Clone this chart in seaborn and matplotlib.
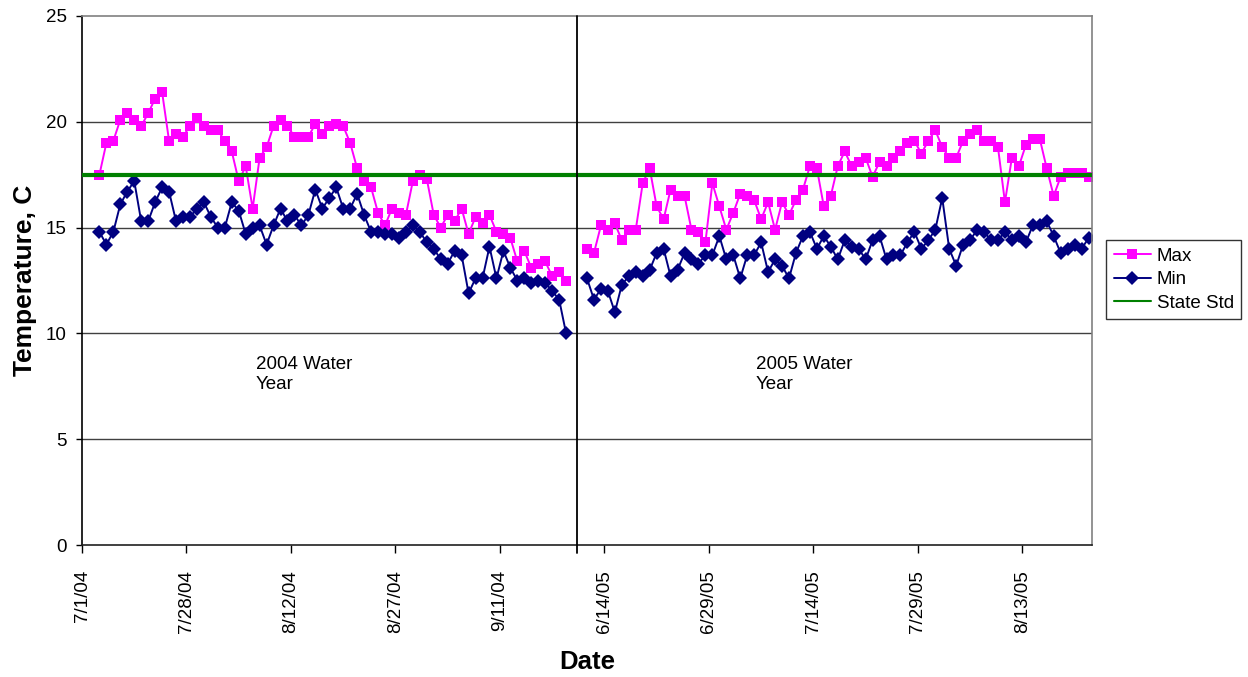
import numpy as np
import pandas as pd
import seaborn as sns
from matplotlib import pyplot as plt

# daily max / min water temperature, two water years
max04 = [17.5, 19.0, 19.1, 20.1, 20.4, 20.1, 19.8, 20.4, 21.1, 21.4, 19.1, 19.4, 19.3, 19.8, 20.2, 19.8,
         19.6, 19.6, 19.1, 18.6, 17.2, 17.9, 15.9, 18.3, 18.8, 19.8, 20.1, 19.8, 19.3, 19.3, 19.3, 19.9,
         19.4, 19.8, 19.9, 19.8, 19.0, 17.8, 17.2, 16.9, 15.7, 15.1, 15.9, 15.7, 15.6, 17.2, 17.5, 17.3,
         15.6, 15.0, 15.6, 15.3, 15.9, 14.7, 15.5, 15.2, 15.6, 14.8, 14.7, 14.5, 13.4, 13.9, 13.1, 13.3,
         13.4, 12.7, 12.9, 12.5]
min04 = [14.8, 14.2, 14.8, 16.1, 16.7, 17.2, 15.3, 15.3, 16.2, 16.9, 16.7, 15.3, 15.5, 15.5, 15.9, 16.2,
         15.5, 15.0, 15.0, 16.2, 15.8, 14.7, 15.0, 15.1, 14.2, 15.1, 15.9, 15.3, 15.6, 15.1, 15.6, 16.8,
         15.9, 16.4, 16.9, 15.9, 15.9, 16.6, 15.6, 14.8, 14.8, 14.7, 14.7, 14.5, 14.8, 15.1, 14.8, 14.3,
         14.0, 13.5, 13.3, 13.9, 13.7, 11.9, 12.6, 12.6, 14.1, 12.6, 13.9, 13.1, 12.5, 12.6, 12.4, 12.5,
         12.4, 12.0, 11.6, 10.0]
max05 = [14.0, 13.8, 15.1, 14.9, 15.2, 14.4, 14.9, 14.9, 17.1, 17.8, 16.0, 15.4, 16.8, 16.5, 16.5, 14.9,
         14.8, 14.3, 17.1, 16.0, 14.9, 15.7, 16.6, 16.5, 16.3, 15.4, 16.2, 14.9, 16.2, 15.6, 16.3, 16.8,
         17.9, 17.8, 16.0, 16.5, 17.9, 18.6, 17.9, 18.1, 18.3, 17.4, 18.1, 17.9, 18.3, 18.6, 19.0, 19.1,
         18.5, 19.1, 19.6, 18.8, 18.3, 18.3, 19.1, 19.4, 19.6, 19.1, 19.1, 18.8, 16.2, 18.3, 17.9, 18.9,
         19.2, 19.2, 17.8, 16.5, 17.4, 17.6, 17.6, 17.6, 17.4]
min05 = [12.6, 11.6, 12.1, 12.0, 11.0, 12.3, 12.7, 12.9, 12.7, 13.0, 13.8, 14.0, 12.7, 13.0, 13.8, 13.5,
         13.3, 13.7, 13.7, 14.6, 13.5, 13.7, 12.6, 13.7, 13.7, 14.3, 12.9, 13.5, 13.2, 12.6, 13.8, 14.6,
         14.8, 14.0, 14.6, 14.1, 13.5, 14.4, 14.1, 14.0, 13.5, 14.4, 14.6, 13.5, 13.7, 13.7, 14.3, 14.8,
         14.0, 14.4, 14.9, 16.4, 14.0, 13.2, 14.2, 14.4, 14.9, 14.8, 14.4, 14.4, 14.8, 14.4, 14.6, 14.3,
         15.1, 15.1, 15.3, 14.6, 13.8, 14.0, 14.2, 14.0, 14.5]
state_std = 17.5
tick_labels = ['7/1/04', '7/28/04', '8/12/04', '8/27/04', '9/11/04',
               '6/14/05', '6/29/05', '7/14/05', '7/29/05', '8/13/05']

# category positions (excel text axis: 2 blank cats at start, 2 blank between years)
cat04 = np.arange(len(max04)) + 2
cat05 = np.arange(len(max05)) + cat04[-1] + 3
n_cat = cat05[-1] + 1

frames = []
for seg, cats, mx, mn in [('2004', cat04, max04, min04), ('2005', cat05, max05, min05)]:
    frames.append(pd.DataFrame({'cat': cats, 'temp': mx, 'series': 'Max', 'segment': seg}))
    frames.append(pd.DataFrame({'cat': cats, 'temp': mn, 'series': 'Min', 'segment': seg}))
df = pd.concat(frames, ignore_index=True)

sns.set_style('white')
plt.rcParams['font.family'] = ['Liberation Sans', 'DejaVu Sans']
plt.rcParams['text.color'] = 'black'
plt.rcParams['xtick.color'] = 'black'
plt.rcParams['ytick.color'] = 'black'

fig = plt.figure(figsize=(12.48, 6.77), dpi=100)
ax = fig.add_axes([82 / 1248, 1 - 545 / 677, 1010 / 1248, 529 / 677])

sns.lineplot(data=df, x='cat', y='temp', hue='series', style='series', units='segment',
             estimator=None, palette={'Max': '#FF00FF', 'Min': '#000080'},
             markers={'Max': 's', 'Min': 'D'}, dashes=False, markersize=7,
             markeredgewidth=0, linewidth=1.4, ax=ax)
std_line = ax.axhline(state_std, color='#008000', lw=3, zorder=5, label='State Std')

# separator between water years
sep = (cat04[-1] + cat05[0]) / 2
ax.axvline(sep, ymin=-0.016, ymax=1, color='black', lw=1.3, clip_on=False, zorder=6)

ax.set_xlim(-0.5, n_cat - 0.5)
ax.set_ylim(0, 25)
ax.set_yticks(np.arange(0, 26, 5))
ax.set_xticks(np.arange(len(tick_labels)) * 15 - 0.5)
ax.set_xticklabels(tick_labels, rotation=90)
ax.tick_params(axis='y', direction='out', length=4.5, width=1, pad=6.5, labelsize=13.5,
               color='black', labelcolor='black', left=True)
ax.tick_params(axis='x', direction='out', length=6, width=1, pad=12, labelsize=13.5,
               color='black', labelcolor='black', bottom=True)
ax.set_xlabel('')
ax.set_ylabel('')
for y in [5, 10, 15, 20]:
    ax.axhline(y, color='#404040', lw=1, zorder=0)
ax.spines['left'].set_color('black')
ax.spines['bottom'].set_color('#202020')
ax.spines['top'].set_color('#808080')
ax.spines['right'].set_color('#808080')
for s in ax.spines.values():
    s.set_linewidth(1.2)

ax.text(0.172, 0.357, '2004 Water\nYear', transform=ax.transAxes, ha='left', va='top',
        fontsize=13.5, color='black')
ax.text(0.667, 0.357, '2005 Water\nYear', transform=ax.transAxes, ha='left', va='top',
        fontsize=13.5, color='black')

fig.text(25 / 1248, 1 - 280 / 677, 'Temperature, C', rotation=90, ha='center', va='center',
         fontsize=19, fontweight='bold', color='black')
fig.text(587 / 1248, 1 - 662 / 677, 'Date', ha='center', va='center', fontsize=18.5,
         fontweight='bold', color='black')

leg = ax.get_legend()
handles = list(leg.legend_handles) + [std_line]
labels = [t.get_text() for t in leg.get_texts()] + ['State Std']
leg.remove()
leg = ax.legend(handles, labels, loc='upper left', bbox_to_anchor=(1106 / 1248, 1 - 240 / 677),
                bbox_transform=fig.transFigure, borderaxespad=0, fontsize=13.5, frameon=True,
                fancybox=False, edgecolor='black', handlelength=2.0, handletextpad=0.3,
                labelspacing=0.35, borderpad=0.4)
leg.get_frame().set_linewidth(1)
leg.get_lines()[-1].set_linewidth(1.5)
for t in leg.get_texts():
    t.set_color('black')

fig.savefig('out.png', dpi=100)
